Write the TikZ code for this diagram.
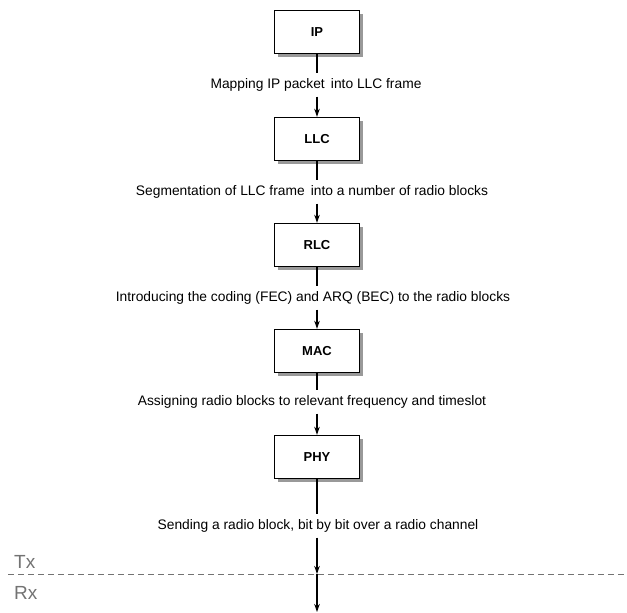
\documentclass[tikz,border=0pt]{standalone}
\usepackage{fontspec}
\setmainfont{Liberation Sans}
\usetikzlibrary{arrows.meta,shadows}
\begin{document}
\begin{tikzpicture}[x=1pt,y=-1pt,
  layer/.style={draw=black,line width=1.4pt,fill=white,minimum width=85pt,minimum height=43pt,
    font=\fontsize{13}{15}\selectfont\bfseries,
    drop shadow={shadow xshift=3.5pt,shadow yshift=-3.5pt,fill=black!40,opacity=1}},
  step label/.style={font=\fontsize{13.8}{16}\selectfont,inner xsep=1pt,inner ysep=5pt},
  link/.style={line width=1.1pt},
  flow/.style={line width=1.1pt,-{Stealth[length=8pt,width=5.5pt]}},
  side/.style={text=black!55,font=\fontsize{19}{21}\selectfont,anchor=west,inner sep=0pt}]
\useasboundingbox (0,0) rectangle (627,613);
\node[layer] (ip)  at (317,32)  {IP};
\node[layer] (llc) at (317,139) {LLC};
\node[layer] (rlc) at (317,245) {RLC};
\node[layer] (mac) at (317,351) {MAC};
\node[layer] (phy) at (317,457) {PHY};
\node[step label] (l1) at (316,85)  {Mapping IP packet\, into LLC frame};
\node[step label] (l2) at (312,192) {Segmentation of LLC frame\, into a number of radio blocks};
\node[step label] (l3) at (313,298) {Introducing the coding (FEC) and ARQ (BEC) to the radio blocks};
\node[step label] (l4) at (312,402) {Assigning radio blocks to relevant frequency and timeslot};
\node[step label] (l5) at (318,526) {Sending a radio block, bit by bit over a radio channel};
\coordinate (cross) at (317,574);
\coordinate (rx) at (317,612);
\draw[link] (ip) -- (ip|-l1.north);
\draw[flow] (ip|-l1.south) -- (llc);
\draw[link] (llc) -- (llc|-l2.north);
\draw[flow] (llc|-l2.south) -- (rlc);
\draw[link] (rlc) -- (rlc|-l3.north);
\draw[flow] (rlc|-l3.south) -- (mac);
\draw[link] (mac) -- (mac|-l4.north);
\draw[flow] (mac|-l4.south) -- (phy);
\draw[link] (phy) -- (phy|-l5.north);
\draw[flow] (phy|-l5.south) -- (cross);
\draw[flow] (cross) -- (rx);
\draw[black!55,line width=1pt,dash pattern=on 6pt off 4pt] (8,574) -- (627,574);
\node[side] (tx) at (14,562) {Tx};
\node[side] (rxl) at (14,593) {Rx};
\end{tikzpicture}
\end{document}
